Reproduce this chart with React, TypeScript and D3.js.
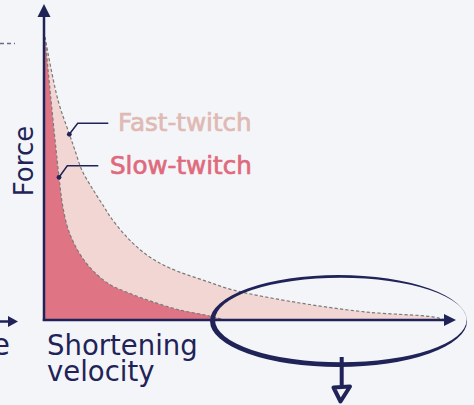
import React from "react";
import * as d3 from "d3";

// Force–velocity curves (velocity in % of axis, force in % of peak)
const fastVelocity = [0.24, 3.4, 6.2, 7.5, 9.2, 12.0, 14.6, 16.1, 20.1, 25.0, 30.7, 39.7, 46.0, 62.3, 78.6, 94.6, 97.6];
const fastForce = [100, 77.7, 65.6, 60.1, 53.0, 45.9, 40.0, 36.5, 29.4, 23.0, 18.3, 13.6, 10.6, 6.0, 2.8, 1.1, 0];
const slowVelocity = [0.24, 1.7, 3.65, 4.45, 5.67, 7.3, 9.7, 13.0, 16.2, 19.5, 26.5, 33.1, 39.7, 44.0];
const slowForce = [100, 77.7, 50.6, 41.2, 33.0, 27.1, 21.2, 15.9, 12.4, 10.2, 6.4, 3.5, 1.6, 0];
const seriesLabels = ["Fast-twitch", "Slow-twitch"];
const xLabelLines = ["Shortening", "velocity"];
const yLabel = "Force";
const leftCutLabel = "Range";

const W = 474;
const H = 405;
const NAVY = "#1f2358";
const FAST_FILL = "#f2d6d3";
const SLOW_FILL = "#df7484";
const FAST_TEXT = "#dfbab5";
const SLOW_TEXT = "#e06a7c";
const FONT = "'DejaVu Sans', sans-serif";

export default function App() {
  const x = d3.scaleLinear().domain([0, 100]).range([44, 455]);
  const y = d3.scaleLinear().domain([0, 100]).range([320, 37]);

  const fast = fastVelocity.map((v, i) => [v, fastForce[i]] as [number, number]);
  const slow = slowVelocity.map((v, i) => [v, slowForce[i]] as [number, number]);

  const curve = d3.curveCatmullRom.alpha(0.5);
  const area = d3
    .area<[number, number]>()
    .x((d) => x(d[0]))
    .y0(y(0))
    .y1((d) => y(d[1]))
    .curve(curve);
  const line = d3
    .line<[number, number]>()
    .x((d) => x(d[0]))
    .y((d) => y(d[1]))
    .curve(curve);

  const x0 = x(0);
  const y0 = y(0);

  // ellipse with varying stroke thickness (outer minus inner)
  const ellipsePath = (cx: number, cy: number, rx: number, ry: number) =>
    `M${cx - rx},${cy} A${rx},${ry} 0 1,0 ${cx + rx},${cy} A${rx},${ry} 0 1,0 ${cx - rx},${cy} Z`;
  const ring =
    ellipsePath(338.5, 321, 128.5, 46) + " " + ellipsePath(340.8, 320, 125.8, 42.3);

  return (
    <svg
      width={W}
      height={H}
      style={{ position: "absolute", left: 0, top: 0, background: "#f4f5f8" }}
    >
      <rect width={W} height={H} fill="#f4f5f8" />

      {/* areas */}
      <path d={area(fast) ?? ""} fill={FAST_FILL} />
      <path d={area(slow) ?? ""} fill={SLOW_FILL} />
      <path d={line(fast) ?? ""} fill="none" stroke="#7a7a7a" strokeWidth={1.2} strokeDasharray="3.2,2.2" />
      <path d={line(slow) ?? ""} fill="none" stroke="#7a7a7a" strokeWidth={1.2} strokeDasharray="3.2,2.2" />

      {/* axes */}
      <line x1={x0} y1={y0 + 1} x2={x0} y2={14} stroke={NAVY} strokeWidth={2.5} />
      <path d={`M${x0},4 L${x0 - 6.5},17 L${x0 + 6.5},17 Z`} fill={NAVY} />
      <line x1={x0 - 1.2} y1={y0} x2={446} y2={y0} stroke={NAVY} strokeWidth={2.5} />
      <path d={`M456,${y0} L444,${y0 - 6} L444,${y0 + 6} Z`} fill={NAVY} />

      {/* cut-off elements at the left edge */}
      <line x1={0} y1={43.5} x2={15} y2={43.5} stroke="#6a6d8a" strokeWidth={1.3} strokeDasharray="4,3" />
      <line x1={0} y1={321.5} x2={9} y2={321.5} stroke={NAVY} strokeWidth={2.5} />
      <path d={`M18,321.5 L8,316 L8,327 Z`} fill={NAVY} />
      <text x={10} y={355} textAnchor="end" fontFamily={FONT} fontSize={30} fill={NAVY}>
        {leftCutLabel}
      </text>

      {/* axis labels */}
      <text
        transform="translate(33,161) rotate(-90)"
        textAnchor="middle"
        fontFamily={FONT}
        fontSize={26}
        fill={NAVY}
      >
        {yLabel}
      </text>
      {xLabelLines.map((t, i) => (
        <text key={t} x={47} y={355 + i * 26} fontFamily={FONT} fontSize={27.5} fill={NAVY}>
          {t}
        </text>
      ))}

      {/* series labels with leaders */}
      <polyline points="69.3,134.3 77.7,123.3 108.3,123.3" fill="none" stroke={NAVY} strokeWidth={1.5} />
      <circle cx={69.3} cy={134.3} r={2.4} fill={NAVY} />
      <polyline points="59,177.3 67.3,165.7 98.3,165.7" fill="none" stroke={NAVY} strokeWidth={1.5} />
      <circle cx={59} cy={177.3} r={2.4} fill={NAVY} />
      <text x={118} y={131} fontFamily={FONT} fontSize={24.6} fill={FAST_TEXT} stroke={FAST_TEXT} strokeWidth={0.7}>
        {seriesLabels[0]}
      </text>
      <text x={110} y={174} fontFamily={FONT} fontSize={24.6} fill={SLOW_TEXT} stroke={SLOW_TEXT} strokeWidth={0.7}>
        {seriesLabels[1]}
      </text>

      {/* hand-drawn ellipse and arrow */}
      <path d={ring} fill={NAVY} fillRule="evenodd" />
      <line x1={341.7} y1={357} x2={341.7} y2={385} stroke={NAVY} strokeWidth={4} />
      <path
        d="M333.5,387.5 L350,386.5 L340.5,401.5 Z"
        fill="none"
        stroke={NAVY}
        strokeWidth={4}
        strokeLinejoin="round"
      />
    </svg>
  );
}
